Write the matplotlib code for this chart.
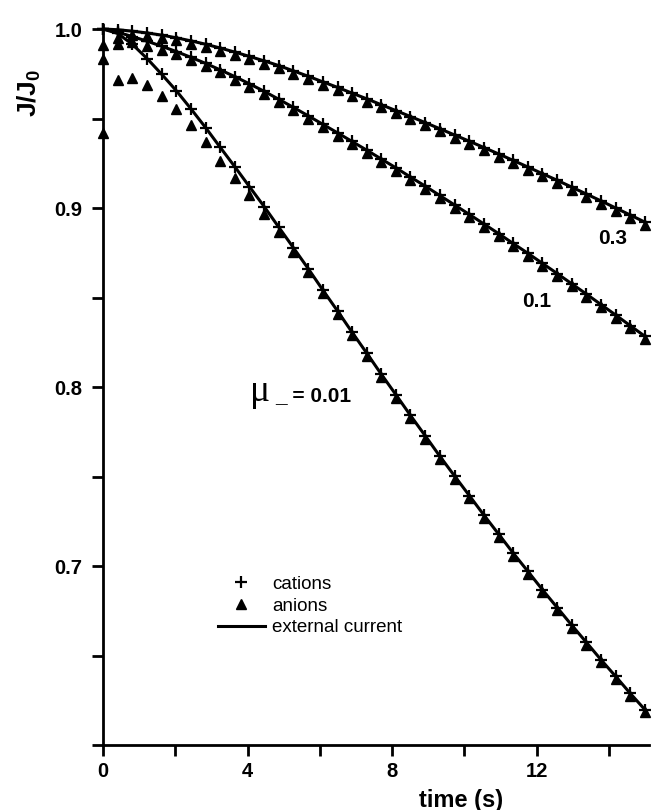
import matplotlib.pyplot as plt
from matplotlib.ticker import MultipleLocator, FixedLocator, FixedFormatter

plt.rcParams['font.family'] = ['Liberation Sans', 'DejaVu Sans']
plt.rcParams['font.weight'] = 'bold'
plt.rcParams['mathtext.default'] = 'regular'

# sample times (s)
time = [0.0, 0.41, 0.81, 1.22, 1.62, 2.03, 2.43, 2.84, 3.24, 3.65, 4.05, 4.46,
        4.86, 5.27, 5.68, 6.08, 6.49, 6.89, 7.30, 7.70, 8.11, 8.51, 8.92, 9.32,
        9.73, 10.14, 10.54, 10.95, 11.35, 11.76, 12.16, 12.57, 12.97, 13.38,
        13.78, 14.19, 14.59, 15.0]

# mu_- = 0.01
cat_001 = [1.0, 0.9975, 0.9915, 0.9835, 0.9748, 0.9655, 0.9555, 0.9449, 0.934, 0.923,
           0.912, 0.9008, 0.8894, 0.8778, 0.8661, 0.8543, 0.8425, 0.8307, 0.8189,
           0.8072, 0.7956, 0.7841, 0.7727, 0.7614, 0.7503, 0.7393, 0.7285, 0.7178,
           0.7073, 0.697, 0.6868, 0.6768, 0.667, 0.6573, 0.6477, 0.6383, 0.6289, 0.6197]
an_001 = [0.942, 0.9715, 0.9725, 0.9687, 0.9626, 0.9552, 0.9464, 0.9367, 0.9264, 0.9166,
          0.907, 0.8968, 0.8864, 0.8754, 0.8641, 0.8526, 0.841, 0.8292, 0.8174,
          0.8057, 0.7941, 0.7826, 0.7712, 0.7599, 0.7488, 0.7378, 0.727, 0.7163,
          0.7058, 0.6955, 0.6853, 0.6753, 0.6655, 0.6558, 0.6462, 0.6368, 0.6274, 0.6182]

# mu_- = 0.1
cat_01 = [1.0, 0.9982, 0.9958, 0.9932, 0.9904, 0.9874, 0.9842, 0.9808, 0.9772, 0.9734,
          0.9694, 0.9652, 0.9608, 0.9562, 0.9515, 0.9468, 0.942, 0.9372, 0.9323,
          0.9274, 0.9224, 0.9173, 0.9122, 0.907, 0.9017, 0.8964, 0.8911, 0.8857,
          0.8802, 0.8747, 0.8691, 0.8634, 0.8577, 0.8519, 0.8461, 0.8402, 0.8343, 0.8283]
an_01 = [0.983, 0.9915, 0.9925, 0.9905, 0.9882, 0.9859, 0.9827, 0.9795, 0.976, 0.9717,
         0.9678, 0.9637, 0.9594, 0.9547, 0.95, 0.9453, 0.9405, 0.9357, 0.9308,
         0.9259, 0.9209, 0.9158, 0.9107, 0.9055, 0.9002, 0.8949, 0.8896, 0.8842,
         0.8787, 0.8732, 0.8676, 0.8619, 0.8562, 0.8504, 0.8446, 0.8387, 0.8328, 0.8268]

# mu_- = 0.3
cat_03 = [1.0, 0.9996, 0.9988, 0.9978, 0.9966, 0.9951, 0.9934, 0.9915, 0.9894, 0.9871,
          0.9847, 0.9822, 0.9796, 0.9766, 0.9736, 0.9705, 0.9674, 0.9642, 0.961,
          0.9577, 0.9544, 0.9511, 0.9477, 0.9443, 0.9408, 0.9373, 0.9338, 0.9302,
          0.9266, 0.9229, 0.9192, 0.9155, 0.9117, 0.9078, 0.904, 0.9, 0.8961, 0.8921]
an_03 = [0.991, 0.995, 0.9965, 0.9963, 0.9951, 0.9936, 0.9919, 0.99, 0.9879, 0.9856,
         0.9832, 0.9807, 0.9781, 0.9751, 0.9721, 0.969, 0.9659, 0.9627, 0.9595,
         0.9562, 0.9529, 0.9496, 0.9462, 0.9428, 0.9393, 0.9358, 0.9323, 0.9287,
         0.9251, 0.9214, 0.9177, 0.914, 0.9102, 0.9063, 0.9025, 0.8985, 0.8946, 0.8906]

y_ticks = [0.6, 0.7, 0.8, 0.9, 1.0]
y_ticklabels = ['', '0.7', '0.8', '0.9', '1.0']


def main():
    fig = plt.figure(figsize=(6.52, 8.10), dpi=100)
    ax = fig.add_axes([0.158, 0.0802, 0.8368, 0.8884])

    series = [(cat_001, an_001), (cat_01, an_01), (cat_03, an_03)]
    for i, (cat, an) in enumerate(series):
        first = i == 0
        ax.plot(time, cat, '-', color='black', lw=2.2, zorder=2,
                label='external current' if first else None)
        ax.plot(time, an, '^', color='black', ms=7, ls='none', zorder=3,
                clip_on=False, label='anions' if first else None)
        ax.plot(time, cat, '+', color='black', ms=8, mew=1.6, ls='none', zorder=4,
                clip_on=False, label='cations' if first else None)

    ax.set_xlim(0, 15.1)
    ax.set_ylim(0.6, 1.002)
    for side in ['top', 'right']:
        ax.spines[side].set_visible(False)
    for side in ['left', 'bottom']:
        ax.spines[side].set_linewidth(2)

    ax.xaxis.set_major_locator(MultipleLocator(4))
    ax.xaxis.set_minor_locator(MultipleLocator(2))
    ax.yaxis.set_major_locator(FixedLocator(y_ticks))
    ax.yaxis.set_major_formatter(FixedFormatter(y_ticklabels))
    ax.yaxis.set_minor_locator(MultipleLocator(0.05))
    ax.tick_params(which='both', direction='out', length=8, width=2, labelsize=14.5)
    ax.tick_params(axis='x', pad=4)
    ax.tick_params(axis='y', pad=7)

    ax.set_xlabel('time (s)', fontsize=17, fontweight='bold', va='center')
    ax.xaxis.set_label_coords(0.656, -0.0764)
    ax.set_ylabel('J/J$_0$', fontsize=19, fontweight='bold', va='center')
    ax.yaxis.set_label_coords(-0.1355, 0.906)

    ax.text(14.1, 0.8832, '0.3', ha='center', va='center', fontsize=15)
    ax.text(12.0, 0.8475, '0.1', ha='center', va='center', fontsize=15)
    ax.text(4.08, 0.7922, 'μ', family=['Liberation Serif'], fontsize=27,
            fontweight='normal', va='baseline')
    ax.text(4.76, 0.7922, '_ = 0.01', fontsize=15, va='baseline')

    handles, labels = ax.get_legend_handles_labels()
    order = [2, 1, 0]
    ax.legend([handles[k] for k in order], [labels[k] for k in order],
              loc='upper left', bbox_to_anchor=(0.2106, 0.2354), frameon=False,
              borderpad=0, borderaxespad=0, handlelength=2.5, handletextpad=0.4,
              labelspacing=0.25, prop={'size': 13.5, 'weight': 'normal'})

    fig.savefig('out.png', dpi=100)


main()
